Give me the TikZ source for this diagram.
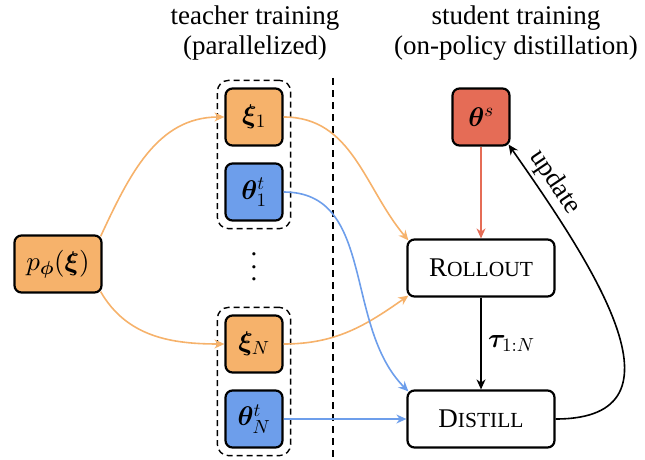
\documentclass[tikz,border=0pt]{standalone}
\usepackage{amsmath}
\usepackage{bm}
\usepackage{fontspec}
\setmainfont{Liberation Serif}
\usetikzlibrary{arrows.meta}
\usetikzlibrary{fit}

% let the math fonts scale freely
\DeclareFontShape{OML}{cmm}{m}{it}{<->cmmi10}{}
\DeclareFontShape{OML}{cmm}{b}{it}{<->cmmib10}{}
\DeclareFontShape{OMS}{cmsy}{m}{n}{<->cmsy10}{}
\DeclareFontShape{OMS}{cmsy}{b}{n}{<->cmbsy10}{}
\DeclareFontShape{OT1}{cmr}{m}{n}{<->cmr10}{}
\DeclareFontShape{OT1}{cmr}{bx}{n}{<->cmbx10}{}
\DeclareFontShape{OMX}{cmex}{m}{n}{<->cmex10}{}

\definecolor{orangeC}{RGB}{246,178,107}
\definecolor{blueC}{RGB}{109,158,235}
\definecolor{redC}{RGB}{229,108,86}

% fake small caps (Liberation Serif has none)
\newcommand{\fakesc}[2]{#1{\fontsize{21.5}{25}\selectfont #2}}

\begin{document}
\begin{tikzpicture}[x=1pt,y=1pt,
            font=\fontsize{27}{32}\selectfont,
            box/.style={draw,line width=2.2pt,rounded corners=7pt,minimum size=57pt,inner sep=1pt},
            wide box/.style={box,fill=white,minimum width=147pt},
            group box/.style={draw,line width=1.4pt,dash pattern=on 6pt off 4pt,rounded corners=11pt,inner sep=7pt},
            flow/.style={line width=1.6pt,-{Stealth[length=10pt,width=9pt]}},
            ]
            \useasboundingbox (0,0) rectangle (645,459);

            % headers
            \node[anchor=base] (teach1) at (255,434) {teacher training};
            \node[anchor=base] (teach2) at (255,404) {(parallelized)};
            \node[anchor=base] (stud1) at (516,434) {student training};
            \node[anchor=base] (stud2) at (516,404) {(on-policy distillation)};

            % teachers
            \node[box, fill=orangeC, minimum width=87pt] (p) at (58,195) {$p_{\bm{\phi}}(\bm{\xi})$};
            \node[box, fill=orangeC] (xi1) at (254,342) {$\bm{\xi}_1$};
            \node[box, fill=blueC] (th1) at (254,267) {$\bm{\theta}^t_1$};
            \node[align=center, inner sep=0pt, font=\fontsize{27}{12.5}\selectfont] (dots) at (254,192) {.\\.\\.};
            \node[box, fill=orangeC] (xiN) at (254,115) {$\bm{\xi}_N$};
            \node[box, fill=blueC] (thN) at (254,40) {$\bm{\theta}^t_N$};
            \node[group box, fit=(xi1)(th1)] (grp1) {};
            \node[group box, fit=(xiN)(thN)] (grpN) {};

            \coordinate (sepTop) at (333,381);
            \coordinate (sepBot) at (333,0);
            \draw[line width=1.4pt, dash pattern=on 7pt off 5pt] (sepTop) -- (sepBot);

            % student
            \node[box, fill=redC] (ths) at (481,342) {$\bm{\theta}^s$};
            \node[wide box] (roll) at (481,191) {\fakesc{R}{OLLOUT}};
            \node[wide box] (dist) at (481,40) {\fakesc{D}{ISTILL}};

            \draw[flow, orangeC] ([shift={(-2pt,-2pt)}]p.north east) to[out=65,in=180] (xi1.west);
            \draw[flow, orangeC] ([shift={(-2pt,2pt)}]p.south east) to[out=-60,in=180] (xiN.west);
            \draw[flow, orangeC] (xi1.east) to[out=0,in=130] ([shift={(2pt,-2pt)}]roll.north west);
            \draw[flow, orangeC] (xiN.east) to[out=0,in=215] ([shift={(2pt,2pt)}]roll.south west);
            \draw[flow, blueC] (th1.east) to[out=0,in=135] ([shift={(2pt,-2pt)}]dist.north west);
            \draw[flow, blueC] (thN.east) -- (dist.west);
            \draw[flow, redC] (ths.south) -- (roll.north);
            \draw[flow] (roll.south) -- node[right, xshift=3pt] {$\bm{\tau}_{1:N}$} (dist.north);
            \draw[flow] (dist.east) to[out=0,in=-55,looseness=1.3] node[pos=0.87, sloped, above] {update} ([shift={(-2pt,2pt)}]ths.south east);
        \end{tikzpicture}
\end{document}
